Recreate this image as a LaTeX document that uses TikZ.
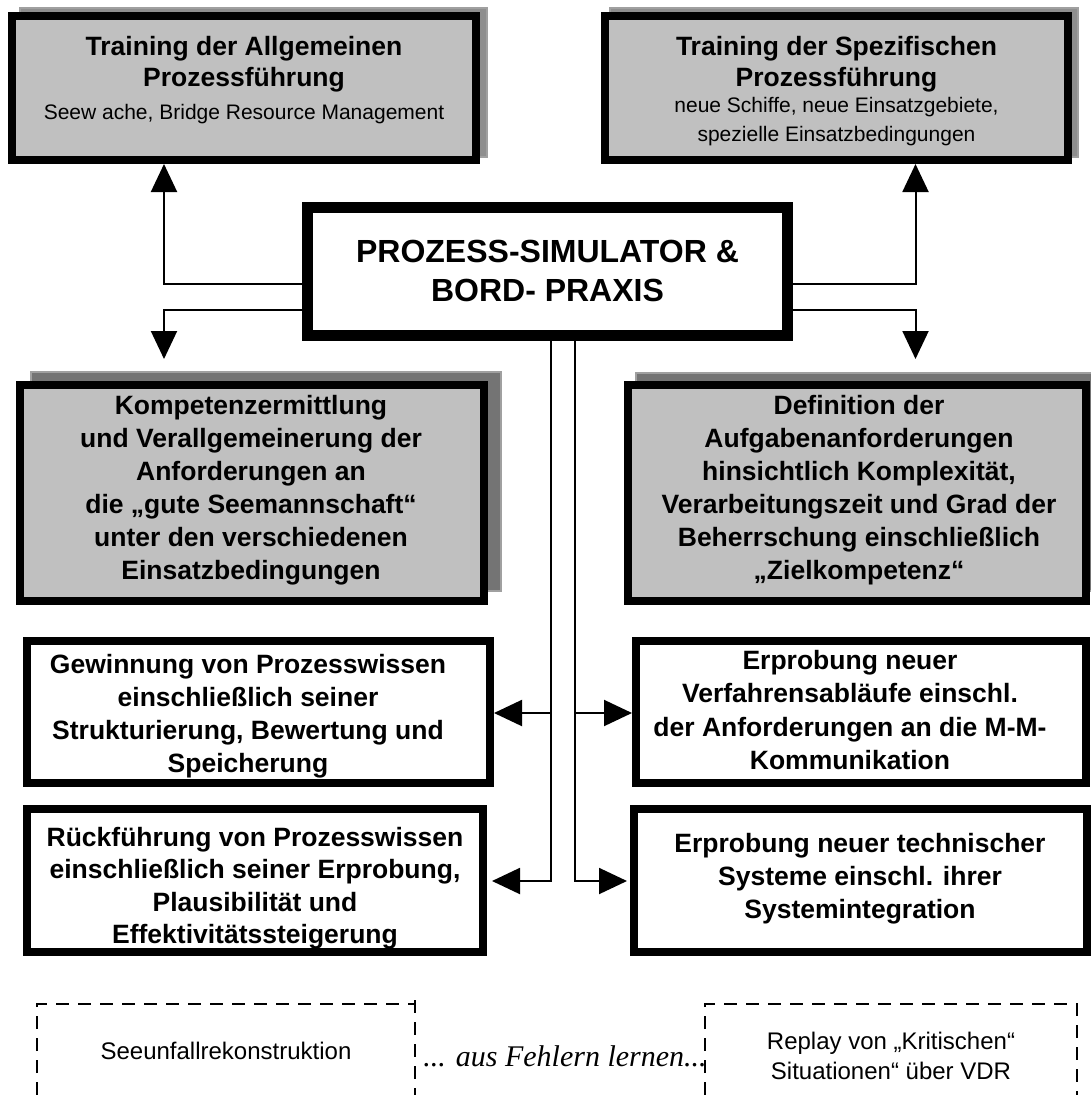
\documentclass[tikz,border=0pt]{standalone}
\usepackage{fontspec}
\setmainfont{Liberation Sans}
\newfontfamily\serifit{Liberation Serif}
\usetikzlibrary{arrows.meta}
\definecolor{boxgray}{HTML}{C0C0C0}
\definecolor{shadowfill}{HTML}{747474}
\definecolor{shadowlight}{HTML}{8E8E8E}
\definecolor{shadowline}{HTML}{A0A0A0}
\begin{document}
\begin{tikzpicture}[x=1pt,y=-1pt,
  graybox/.style={draw=black, fill=boxgray, line width=8pt, inner sep=0pt},
  whitebox/.style={draw=black, fill=white, line width=8pt, inner sep=0pt},
  centerbox/.style={draw=black, fill=white, line width=11.5pt, inner sep=0pt},
  shadowrect/.style={fill=shadowfill, draw=shadowline, line width=2pt},
  lightshadow/.style={fill=shadowlight, draw=shadowline, line width=2pt},
  boldtext/.style={font=\fontsize{26.5}{33}\selectfont\bfseries, align=center, inner sep=0pt, anchor=north},
  subtext/.style={font=\fontsize{21}{29}\selectfont, align=center, inner sep=0pt, anchor=north},
  conn/.style={line width=2pt},
  arr/.style={line width=2pt, -{Triangle[length=28pt,width=26pt]}},
  dashline/.style={line width=2.5pt, dash pattern=on 13pt off 9pt}
]
\useasboundingbox (0,0) rectangle (1091,1095);
\clip (0,0) rectangle (1091,1095);

% shadows
\draw[lightshadow] (20,8) rectangle (487,157);
\draw[lightshadow] (610,8) rectangle (1078,157);
\draw[shadowrect] (31,372) rectangle (501,591);
\draw[shadowrect] (636,373) rectangle (1100,591);

% boxes
\node[graybox, minimum width=464pt, minimum height=144pt] (B1) at (244,88) {};
\node[graybox, minimum width=463pt, minimum height=144pt] (B2) at (836.5,88) {};
\node[centerbox, minimum width=480pt, minimum height=128pt] (C) at (547.5,271.5) {};
\node[graybox, minimum width=464pt, minimum height=216pt] (B3) at (252,493) {};
\node[graybox, minimum width=458pt, minimum height=216pt] (B4) at (857,493) {};
\node[whitebox, minimum width=463pt, minimum height=142pt] (B5) at (258.5,712) {};
\node[whitebox, minimum width=450pt, minimum height=142pt] (B6) at (861,712) {};
\node[whitebox, minimum width=456pt, minimum height=143pt] (B7) at (255,880.5) {};
\node[whitebox, minimum width=453pt, minimum height=143pt] (B8) at (860.5,880.5) {};

% texts
\node[boldtext, font=\fontsize{26.5}{31}\selectfont\bfseries] (B1a) at (244,35.7) {Training der Allgemeinen\\Prozessführung};
\node[subtext] (B1b) at (244,103.7) {Seew ache, Bridge Resource Management};
\node[boldtext, font=\fontsize{26.5}{31}\selectfont\bfseries] (B2a) at (836.5,35.7) {Training der Spezifischen\\Prozessführung};
\node[subtext] (B2b) at (836.5,96.7) {neue Schiffe, neue Einsatzgebiete,\\spezielle Einsatzbedingungen};
\node[font=\fontsize{32}{39}\selectfont\bfseries, align=center, inner sep=0pt] (Ct) at (547.5,271) {PROZESS-SIMULATOR \&\\BORD- PRAXIS};
\node[boldtext] (B3t) at (251,394.7) {Kompetenzermittlung\\und Verallgemeinerung der\\Anforderungen an\\die „gute Seemannschaft“\\unter den verschiedenen\\Einsatzbedingungen};
\node[boldtext] (B4t) at (859,394.7) {Definition der\\Aufgabenanforderungen\\hinsichtlich Komplexität,\\Verarbeitungszeit und Grad der\\Beherrschung einschließlich\\„Zielkompetenz“};
\node[boldtext] (B5t) at (248,653.7) {Gewinnung von Prozesswissen\\einschließlich seiner\\Strukturierung, Bewertung und\\Speicherung};
\node[boldtext, font=\fontsize{26.5}{33.5}\selectfont\bfseries] (B6t) at (850,649.7) {Erprobung neuer\\Verfahrensabläufe einschl.\\der Anforderungen an die M-M-\\Kommunikation};
\node[boldtext, font=\fontsize{26.5}{32.5}\selectfont\bfseries] (B7t) at (255,826.7) {Rückführung von Prozesswissen\\einschließlich seiner Erprobung,\\Plausibilität und\\Effektivitätssteigerung};
\node[boldtext] (B8t) at (860,832.7) {Erprobung neuer technischer\\Systeme einschl. ihrer\\Systemintegration};

% connector helper coordinates
\coordinate (xL) at (164,0);
\coordinate (xR) at (915.5,0);
\coordinate (yU) at (0,283.6);
\coordinate (yD) at (0,309.6);
\coordinate (aL) at (164,359);
\coordinate (aR) at (915.5,359);
\coordinate (vL) at (551,0);
\coordinate (vR) at (575,0);
\coordinate (y1) at (0,713);
\coordinate (t7) at (492,881);
\coordinate (t8) at (627,881);

\draw[arr] (C.west |- yU) -| (B1.south -| xL);
\draw[arr] (C.west |- yD) -| (aL);
\draw[arr] (C.east |- yU) -| (B2.south -| xR);
\draw[arr] (C.east |- yD) -| (aR);

\draw[arr] (C.south -| vL) |- (t7);
\draw[arr] (vL |- y1) -- (B5.east |- y1);
\draw[arr] (C.south -| vR) |- (t8);
\draw[arr] (vR |- y1) -- (B6.west |- y1);

% bottom dashed frames
\draw[dashline] (37,1095) -- (37,1004) -- (415,1004);
\draw[dashline] (415,1000) -- (415,1095);
\draw[dashline] (705,1095) -- (705,1004) -- (1077,1004) -- (1077,1095);

\node[font=\fontsize{24}{30}\selectfont, inner sep=0pt, anchor=base] (SU) at (226,1059) {Seeunfallrekonstruktion};
\node[font=\fontsize{30}{36}\selectfont\serifit\itshape, inner sep=0pt, anchor=base] (FL) at (565,1066) {... aus Fehlern lernen...};
\node[font=\fontsize{24}{30}\selectfont, align=center, inner sep=0pt, anchor=north] (RP) at (891,1031.7) {Replay von „Kritischen“\\Situationen“ über VDR};
\end{tikzpicture}
\end{document}
